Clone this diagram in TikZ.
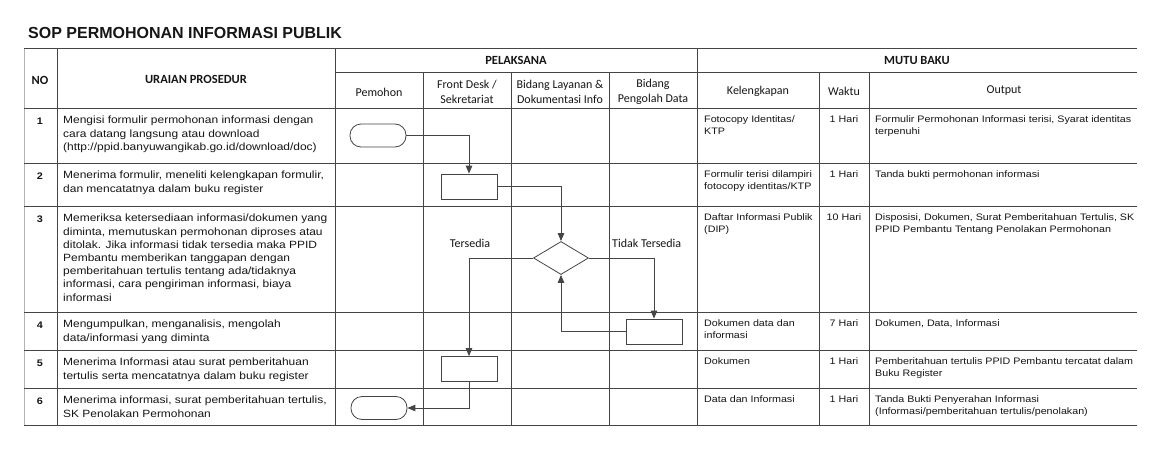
\documentclass[tikz,border=0pt]{standalone}
\usepackage{fontspec}
\usetikzlibrary{arrows.meta,shapes.geometric}
\newfontfamily\sopBody[FakeStretch=1.14]{Liberation Sans}
\newfontfamily\sopTitle{Liberation Sans}
\newfontfamily\sopCal{Carlito}
\newcommand\sopL{\sopBody\fontsize{10.5}{13.2}\selectfont}
\newcommand\sopR{\sopBody\fontsize{9.4}{12.4}\selectfont}
\newcommand\sopN{\sopBody\bfseries\fontsize{9.5}{11}\selectfont}
\newcommand\sopH{\sopCal\bfseries\fontsize{12.5}{15}\selectfont}
\newcommand\sopS{\sopCal\fontsize{12}{15}\selectfont}
\definecolor{linegray}{HTML}{454545}
\definecolor{txt}{HTML}{161616}
\begin{document}
\begin{tikzpicture}[x=1pt,y=-1pt,
  gridline/.style={draw=linegray, line width=0.7pt},
  faintline/.style={draw=black!30, line width=0.5pt},
  lt/.style={anchor=north west, inner sep=0pt, align=left, font=\sopL, text=txt},
  rt/.style={anchor=north west, inner sep=0pt, align=left, font=\sopR, text=txt},
  wk/.style={anchor=north, inner sep=0pt, font=\sopR, text=txt},
  num/.style={anchor=center, inner sep=0pt, font=\sopN, text=txt},
  hd/.style={anchor=center, inner sep=0pt, font=\sopH, text=txt},
  sh/.style={anchor=center, inner sep=0pt, align=center, font=\sopS, text=txt},
  lbl/.style={inner sep=0pt, font=\sopS, text=txt},
  term/.style={draw=linegray, line width=0.8pt, minimum width=56pt, minimum height=23pt, rounded corners=11pt, inner sep=0pt},
  proc/.style={draw=linegray, line width=0.8pt, minimum width=56pt, minimum height=25pt, inner sep=0pt},
  dec/.style={draw=linegray, line width=0.8pt, diamond, minimum width=55pt, minimum height=33pt, inner sep=0pt},
  flow/.style={draw=linegray, line width=1pt, -{Triangle[length=8pt,width=6.5pt]}}
]
\useasboundingbox (0,0) rectangle (1149,450);
\fill[white] (0,0) rectangle (1149,450);

% title
\node[anchor=west, inner sep=0pt, font=\sopTitle\bfseries\fontsize{16}{18}\selectfont, text=txt] (title) at (28,33) {SOP PERMOHONAN INFORMASI PUBLIK};

% table grid
\draw[faintline] (24,48) -- (24,425);
\foreach \yy in {48,108,163,206,312,350,388,425} \draw[gridline] (24,\yy) -- (1137,\yy);
\draw[gridline] (335,72) -- (1137,72);
\foreach \xx in {57,335,697} \draw[gridline] (\xx,48) -- (\xx,425);
\foreach \xx in {423,511,609,819,869} \draw[gridline] (\xx,72) -- (\xx,425);

% headers
\node[hd] (hno) at (40,80) {NO};
\node[hd] (hur) at (196,79) {URAIAN PROSEDUR};
\node[hd] (hpel) at (516,60) {PELAKSANA};
\node[hd] (hmut) at (917,60) {MUTU BAKU};
\node[sh] (hpm) at (379,92) {Pemohon};
\node[sh] (hfd) at (467,91.5) {Front Desk /\\Sekretariat};
\node[sh] (hbl) at (560,91.5) {Bidang Layanan \&\\Dokumentasi Info};
\node[sh] (hbp) at (653,91.5) {Bidang\\Pengolah Data};
\node[sh] (hkl) at (758,91) {Kelengkapan};
\node[sh] (hwk) at (844,91) {Waktu};
\node[sh] (hout) at (1004,91) {Output};

% numbers
\node[num] (n1) at (40,121) {1};
\node[num] (n2) at (40,176) {2};
\node[num] (n3) at (40,219) {3};
\node[num] (n4) at (40,325) {4};
\node[num] (n5) at (40,363) {5};
\node[num] (n6) at (40,401) {6};

% uraian prosedur
\node[lt] (u1) at (63,116) {Mengisi formulir permohonan informasi dengan\\cara datang langsung atau download\\(http://ppid.banyuwangikab.go.id/download/doc)};
\node[lt] (u2) at (63,171) {Menerima formulir, meneliti kelengkapan formulir,\\dan mencatatnya dalam buku register};
\node[lt] (u3) at (63,214) {Memeriksa ketersediaan informasi/dokumen yang\\diminta, memutuskan permohonan diproses atau\\ditolak. Jika informasi tidak tersedia maka PPID\\Pembantu memberikan tanggapan dengan\\pemberitahuan tertulis tentang ada/tidaknya\\informasi, cara pengiriman informasi, biaya\\informasi};
\node[lt] (u4) at (63,320) {Mengumpulkan, menganalisis, mengolah\\data/informasi yang diminta};
\node[lt] (u5) at (63,358) {Menerima Informasi atau surat pemberitahuan\\tertulis serta mencatatnya dalam buku register};
\node[lt] (u6) at (63,396) {Menerima informasi, surat pemberitahuan tertulis,\\SK Penolakan Permohonan};

% kelengkapan
\node[rt] (k1) at (704,115) {Fotocopy Identitas/\\KTP};
\node[rt] (k2) at (704,170) {Formulir terisi dilampiri\\fotocopy identitas/KTP};
\node[rt] (k3) at (704,213) {Daftar Informasi Publik\\(DIP)};
\node[rt] (k4) at (704,319) {Dokumen data dan\\informasi};
\node[rt] (k5) at (704,357) {Dokumen};
\node[rt] (k6) at (704,395) {Data dan Informasi};

% waktu
\node[wk] (w1) at (844,115) {1 Hari};
\node[wk] (w2) at (844,170) {1 Hari};
\node[wk] (w3) at (844,213) {10 Hari};
\node[wk] (w4) at (844,319) {7 Hari};
\node[wk] (w5) at (844,357) {1 Hari};
\node[wk] (w6) at (844,395) {1 Hari};

% output
\node[rt] (o1) at (875,115) {Formulir Permohonan Informasi terisi, Syarat identitas\\terpenuhi};
\node[rt] (o2) at (875,170) {Tanda bukti permohonan informasi};
\node[rt] (o3) at (875,213) {Disposisi, Dokumen, Surat Pemberitahuan Tertulis, SK\\PPID Pembantu Tentang Penolakan Permohonan};
\node[rt] (o4) at (875,319) {Dokumen, Data, Informasi};
\node[rt] (o5) at (875,357) {Pemberitahuan tertulis PPID Pembantu tercatat dalam\\Buku Register};
\node[rt] (o6) at (875,395) {Tanda Bukti Penyerahan Informasi\\(Informasi/pemberitahuan tertulis/penolakan)};

% flow
\node[term] (t1) at (378,135.5) {};
\node[proc] (b1) at (469,186.5) {};
\node[dec] (d1) at (561,258) {};
\node[proc] (b2) at (654,331.5) {};
\node[proc] (b3) at (469,369) {};
\node[term] (t2) at (379,408) {};
\node[lbl] (ly) at (470,243) {Tersedia};
\node[lbl, anchor=west] (ln) at (612,243) {Tidak Tersedia};

\draw[flow] (t1.east) -| (b1.north);
\draw[flow] (b1.east) -| (d1.north);
\draw[flow] (d1.west) -| (b3.north);
\draw[flow] (d1.east) -| (b2.north);
\draw[flow] (b2.west) -| (d1.south);
\draw[flow] (b3.south) |- (t2.east);
\end{tikzpicture}
\end{document}
